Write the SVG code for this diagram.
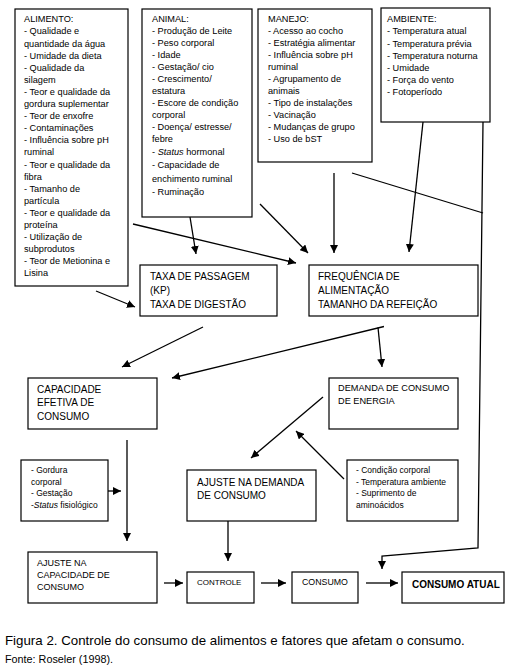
<svg xmlns="http://www.w3.org/2000/svg" width="531" height="666" viewBox="0 0 531 666">
<style>
.box{fill:#fff;stroke:#000;stroke-width:1.2}
.t{font-family:"Liberation Sans",Arial,sans-serif;fill:#000}
.s{font-size:9.2px}
.m{font-size:10px}
.xs{font-size:8.5px}
.ln{fill:none;stroke:#000;stroke-width:1.3}
.it{font-style:italic}
</style>
<defs>
<marker id="ah" markerUnits="userSpaceOnUse" markerWidth="9" markerHeight="8" refX="8" refY="4" orient="auto">
<path d="M0,0 L8,4 L0,8 z" fill="#000"/>
</marker>
</defs>
<rect width="531" height="666" fill="#fff"/>

<g id="alimento">
<rect class="box" x="15" y="9" width="113" height="277"/>
<text class="t s" x="24">
<tspan x="24" y="22.3">ALIMENTO:</tspan>
<tspan x="24" y="34.4">- Qualidade e</tspan>
<tspan x="24" y="46.5">quantidade da água</tspan>
<tspan x="24" y="58.6">- Umidade da dieta</tspan>
<tspan x="24" y="70.7">- Qualidade da</tspan>
<tspan x="24" y="82.8">silagem</tspan>
<tspan x="24" y="94.9">- Teor e qualidade da</tspan>
<tspan x="24" y="107">gordura suplementar</tspan>
<tspan x="24" y="119.1">- Teor de enxofre</tspan>
<tspan x="24" y="131.2">- Contaminações</tspan>
<tspan x="24" y="143.3">- Influência sobre pH</tspan>
<tspan x="24" y="155.4">ruminal</tspan>
<tspan x="24" y="167.5">- Teor e qualidade da</tspan>
<tspan x="24" y="179.6">fibra</tspan>
<tspan x="24" y="191.7">- Tamanho de</tspan>
<tspan x="24" y="203.8">partícula</tspan>
<tspan x="24" y="215.9">- Teor e qualidade da</tspan>
<tspan x="24" y="228">proteína</tspan>
<tspan x="24" y="240.1">- Utilização de</tspan>
<tspan x="24" y="252.2">subprodutos</tspan>
<tspan x="24" y="264.3">- Teor de Metionina e</tspan>
<tspan x="24" y="276.4">Lisina</tspan>
</text>
</g>

<g id="animal">
<rect class="box" x="142" y="9" width="110" height="208"/>
<text class="t s">
<tspan x="152" y="21.8">ANIMAL:</tspan>
<tspan x="152" y="33.5">- Produção de Leite</tspan>
<tspan x="152" y="46">- Peso corporal</tspan>
<tspan x="152" y="57.8">- Idade</tspan>
<tspan x="152" y="70">- Gestação/ cio</tspan>
<tspan x="152" y="82.3">- Crescimento/</tspan>
<tspan x="152" y="94">estatura</tspan>
<tspan x="152" y="106">- Escore de condição</tspan>
<tspan x="152" y="117.8">corporal</tspan>
<tspan x="152" y="130">- Doença/ estresse/</tspan>
<tspan x="152" y="142.3">febre</tspan>
<tspan x="152" y="154.5">- <tspan class="it">Status</tspan> hormonal</tspan>
<tspan x="152" y="167.5">- Capacidade de</tspan>
<tspan x="152" y="181.6">enchimento ruminal</tspan>
<tspan x="152" y="195">- Ruminação</tspan>
</text>
</g>

<g id="manejo">
<rect class="box" x="258" y="9" width="114" height="153"/>
<text class="t s">
<tspan x="268" y="22.3">MANEJO:</tspan>
<tspan x="268" y="34.3">- Acesso ao cocho</tspan>
<tspan x="268" y="46.3">- Estratégia alimentar</tspan>
<tspan x="268" y="57.8">- Influência sobre pH</tspan>
<tspan x="268" y="69.8">ruminal</tspan>
<tspan x="268" y="81.8">- Agrupamento de</tspan>
<tspan x="268" y="93.8">animais</tspan>
<tspan x="268" y="105.8">- Tipo de instalações</tspan>
<tspan x="268" y="118">- Vacinação</tspan>
<tspan x="268" y="130.2">- Mudanças de grupo</tspan>
<tspan x="268" y="142.3">- Uso de bST</tspan>
</text>
</g>

<g id="ambiente">
<rect class="box" x="381" y="8" width="109" height="114"/>
<text class="t s">
<tspan x="387" y="22.3">AMBIENTE:</tspan>
<tspan x="387" y="34.4">- Temperatura atual</tspan>
<tspan x="387" y="46.5">- Temperatura prévia</tspan>
<tspan x="387" y="58.6">- Temperatura noturna</tspan>
<tspan x="387" y="70.7">- Umidade</tspan>
<tspan x="387" y="82.8">- Força do vento</tspan>
<tspan x="387" y="94.9">- Fotoperíodo</tspan>
</text>
</g>

<g id="taxa">
<rect class="box" x="140" y="265" width="137" height="51"/>
<text class="t m">
<tspan x="150" y="279.6">TAXA DE PASSAGEM</tspan>
<tspan x="150" y="293.6">(KP)</tspan>
<tspan x="150" y="307.6">TAXA DE DIGESTÃO</tspan>
</text>
</g>

<g id="frequencia">
<rect class="box" x="309" y="265" width="169" height="51"/>
<text class="t m">
<tspan x="318" y="279.6">FREQUÊNCIA DE</tspan>
<tspan x="318" y="293.6">ALIMENTAÇÃO</tspan>
<tspan x="318" y="307.6">TAMANHO DA REFEIÇÃO</tspan>
</text>
</g>

<g id="capacidade">
<rect class="box" x="28" y="378" width="129" height="51"/>
<text class="t m">
<tspan x="37" y="392.6">CAPACIDADE</tspan>
<tspan x="37" y="406.3">EFETIVA DE</tspan>
<tspan x="37" y="419.8">CONSUMO</tspan>
</text>
</g>

<g id="demanda">
<rect class="box" x="329" y="378" width="129" height="51"/>
<text class="t s">
<tspan x="338" y="391.3">DEMANDA DE CONSUMO</tspan>
<tspan x="338" y="403.8">DE ENERGIA</tspan>
</text>
</g>

<g id="gordura">
<rect class="box" x="21" y="460" width="87" height="61"/>
<text class="t xs">
<tspan x="31" y="473">- Gordura</tspan>
<tspan x="31" y="485">corporal</tspan>
<tspan x="31" y="496.3">- Gestação</tspan>
<tspan x="31" y="508.3">-<tspan class="it">Status</tspan> fisiológico</tspan>
</text>
</g>

<g id="ajuste-demanda">
<rect class="box" x="187" y="470" width="129" height="51"/>
<text class="t m">
<tspan x="197" y="485.6">AJUSTE NA DEMANDA</tspan>
<tspan x="197" y="498.6">DE CONSUMO</tspan>
</text>
</g>

<g id="condicao">
<rect class="box" x="347" y="460" width="111" height="61"/>
<text class="t xs">
<tspan x="356" y="473">- Condição corporal</tspan>
<tspan x="356" y="485">- Temperatura ambiente</tspan>
<tspan x="356" y="496.3">- Suprimento de</tspan>
<tspan x="356" y="508.3">aminoácidos</tspan>
</text>
</g>

<g id="ajuste-capacidade">
<rect class="box" x="28" y="552" width="129" height="51"/>
<text class="t" font-size="9">
<tspan x="37" y="566.3">AJUSTE NA</tspan>
<tspan x="37" y="578.3">CAPACIDADE DE</tspan>
<tspan x="37" y="590.3">CONSUMO</tspan>
</text>
</g>

<g id="controle">
<rect class="box" x="187" y="572" width="67" height="31"/>
<text class="t" font-size="8" x="197" y="585">CONTROLE</text>
</g>

<g id="consumo">
<rect class="box" x="292" y="572" width="66" height="31"/>
<text class="t" font-size="8.8" x="302" y="585.3">CONSUMO</text>
</g>

<g id="consumo-atual">
<rect class="box" x="402" y="572" width="102" height="31"/>
<text class="t" font-size="10" font-weight="bold" x="412" y="587.6">CONSUMO ATUAL</text>
</g>

<g id="connectors">
<line class="ln" x1="190" y1="217" x2="196" y2="254" marker-end="url(#ah)"/>
<line class="ln" x1="133" y1="224" x2="296" y2="263" marker-end="url(#ah)"/>
<line class="ln" x1="260" y1="204" x2="308" y2="253" marker-end="url(#ah)"/>
<line class="ln" x1="334" y1="173" x2="334" y2="253" marker-end="url(#ah)"/>
<line class="ln" x1="423" y1="122" x2="409" y2="252" marker-end="url(#ah)"/>
<line class="ln" x1="352" y1="173" x2="483" y2="213"/>
<polyline class="ln" points="483,122 478,548 382,556 382,569" marker-end="url(#ah)"/>
<line class="ln" x1="96" y1="291" x2="135" y2="307" marker-end="url(#ah)"/>
<line class="ln" x1="203" y1="327" x2="122" y2="367" marker-end="url(#ah)"/>
<line class="ln" x1="384" y1="326.5" x2="172" y2="378" marker-end="url(#ah)"/>
<line class="ln" x1="378" y1="327.5" x2="382" y2="367" marker-end="url(#ah)"/>
<line class="ln" x1="323" y1="397" x2="251" y2="458" marker-end="url(#ah)"/>
<line class="ln" x1="344" y1="479" x2="296" y2="431" marker-end="url(#ah)"/>
<line class="ln" x1="127" y1="440" x2="127" y2="541" marker-end="url(#ah)"/>
<line class="ln" x1="108" y1="491" x2="121" y2="491" marker-end="url(#ah)"/>
<line class="ln" x1="228" y1="521" x2="228" y2="561" marker-end="url(#ah)"/>
<line class="ln" x1="164" y1="583" x2="183" y2="583" marker-end="url(#ah)"/>
<line class="ln" x1="261" y1="583" x2="286" y2="583" marker-end="url(#ah)"/>
<line class="ln" x1="366" y1="583" x2="398" y2="583" marker-end="url(#ah)"/>
</g>

<g id="caption">
<text class="t" font-size="13.3" x="5" y="645">Figura 2. Controle do consumo de alimentos e fatores que afetam o consumo.</text>
<text class="t" font-size="10.8" x="5" y="663">Fonte: Roseler (1998).</text>
</g>
</svg>
